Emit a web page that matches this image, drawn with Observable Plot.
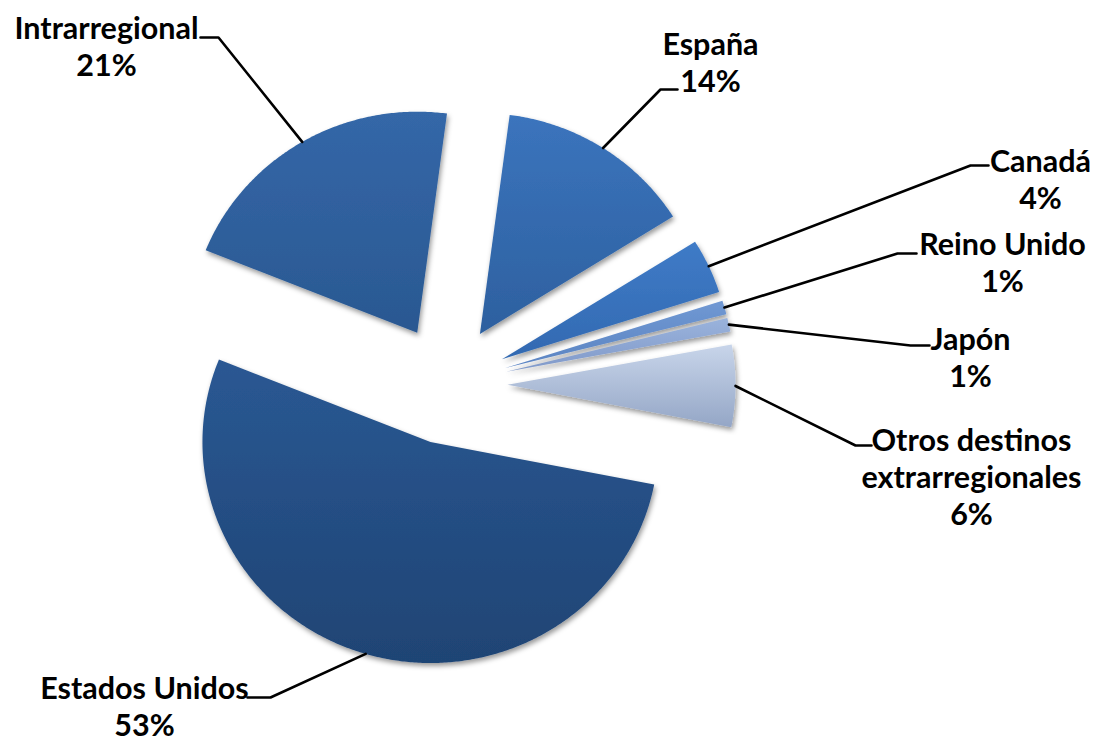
<!DOCTYPE html>
<html>
<head>
<meta charset="utf-8">
<script src="https://cdn.jsdelivr.net/npm/d3@7"></script>
<script src="https://cdn.jsdelivr.net/npm/@observablehq/plot@0.6"></script>
<style>
  html, body { margin: 0; padding: 0; background: #ffffff; }
  #chart svg { display: block; }
</style>
</head>
<body>
<div id="chart"></div>
<script>
// ---------- data ----------
const categories = ["España", "Canadá", "Reino Unido", "Japón", "Otros destinos\nextrarregionales", "Estados Unidos", "Intrarregional"];
const values = [14, 4, 1, 1, 6, 53, 21];

// ---------- styles (separate from data) ----------
const colorsTop    = ["#3b74bd", "#3f7bc7", "#7098d3", "#9ab3dc", "#c8d5ea", "#2a5893", "#3467a8"];
const colorsBottom = ["#2d609f", "#3269b1", "#5b84c2", "#8099c9", "#94a6c6", "#1f4474", "#2a5891"];

// ---------- layout ----------
const W = 1093, H = 741;
const pie = { cx: 447, cy: 384, rx: 228, ry: 221, explode: 60, startDeg: 7.5 };
const fontSize = 30.5;
const lineGap = 37;
// centre of each label block
const labelCenter = [[710, 61], [1040, 178.5], [1002, 261.5], [970, 356], [971, 476], [144, 705], [106, 45]];
// elbow of each leader line: [bend point, end point]
const leaderElbow = [
  [[660, 89], [677, 89]],
  [[970, 165], [988, 165]],
  [[897, 253], [916, 253]],
  [[910, 345], [929, 345]],
  [[855, 445], [871, 445]],
  [[270, 697], [247, 697]],
  [[218, 37], [200, 37]]
];

// ---------- geometry from data ----------
const a0 = pie.startDeg * Math.PI / 180;
const arcs = d3.pie().sort(null).value(d => d).startAngle(a0).endAngle(a0 + 2 * Math.PI)(values);

const slices = arcs.map((a, i) => {
  const mid = (a.startAngle + a.endAngle) / 2;
  const ox = pie.cx + pie.explode * Math.sin(mid);
  const oy = pie.cy - pie.explode * Math.cos(mid);
  const pts = [{x: ox, y: oy}];
  const n = Math.max(4, Math.ceil((a.endAngle - a.startAngle) * 180 / Math.PI * 2));
  for (let k = 0; k <= n; k++) {
    const t = a.startAngle + (a.endAngle - a.startAngle) * k / n;
    pts.push({x: ox + pie.rx * Math.sin(t), y: oy - pie.ry * Math.cos(t)});
  }
  const edge = {x: ox + pie.rx * Math.sin(mid), y: oy - pie.ry * Math.cos(mid)};
  return {i, pts, edge};
});

const leaders = slices.flatMap(s => [
  {z: s.i, x: s.edge.x, y: s.edge.y},
  {z: s.i, x: leaderElbow[s.i][0][0], y: leaderElbow[s.i][0][1]},
  {z: s.i, x: leaderElbow[s.i][1][0], y: leaderElbow[s.i][1][1]}
]);

const labels = categories.map((c, i) => ({
  text: `${c}\n${values[i]}%`,
  x: labelCenter[i][0],
  y: labelCenter[i][1]
}));

const sliceMarks = slices.map(s =>
  Plot.line(s.pts, {x: "x", y: "y", fill: `url(#grad${s.i})`, stroke: "none", curve: "linear-closed"})
);

const chart = Plot.plot({
  width: W,
  height: H,
  margin: 0,
  style: {background: "#ffffff"},
  x: {domain: [0, W], axis: null},
  y: {domain: [0, H], reverse: true, axis: null},
  marks: [
    ...sliceMarks,
    Plot.line(leaders, {x: "x", y: "y", z: "z", stroke: "#000000", strokeWidth: 2.6}),
    Plot.text(labels, {
      x: "x", y: "y", text: "text",
      fontSize: fontSize, fontWeight: "bold",
      fontFamily: "Lato, 'Open Sans', sans-serif",
      lineHeight: lineGap / fontSize,
      lineAnchor: "middle", textAnchor: "middle",
      fill: "#000000"
    })
  ]
});

// gradients and soft shadow
const svg = d3.select(chart);
const defs = svg.insert("defs", ":first-child");
colorsTop.forEach((c, i) => {
  const g = defs.append("linearGradient").attr("id", `grad${i}`).attr("x1", 0).attr("y1", 0).attr("x2", 0).attr("y2", 1);
  g.append("stop").attr("offset", "0%").attr("stop-color", c);
  g.append("stop").attr("offset", "100%").attr("stop-color", colorsBottom[i]);
});
const f = defs.append("filter").attr("id", "shadow").attr("x", "-20%").attr("y", "-20%").attr("width", "140%").attr("height", "140%");
f.append("feDropShadow").attr("dx", 1.5).attr("dy", 3).attr("stdDeviation", 2.5).attr("flood-color", "#000").attr("flood-opacity", 0.4);
svg.selectAll('g[fill^="url(#grad"]').attr("filter", "url(#shadow)");

document.getElementById("chart").appendChild(chart);
</script>
</body>
</html>
